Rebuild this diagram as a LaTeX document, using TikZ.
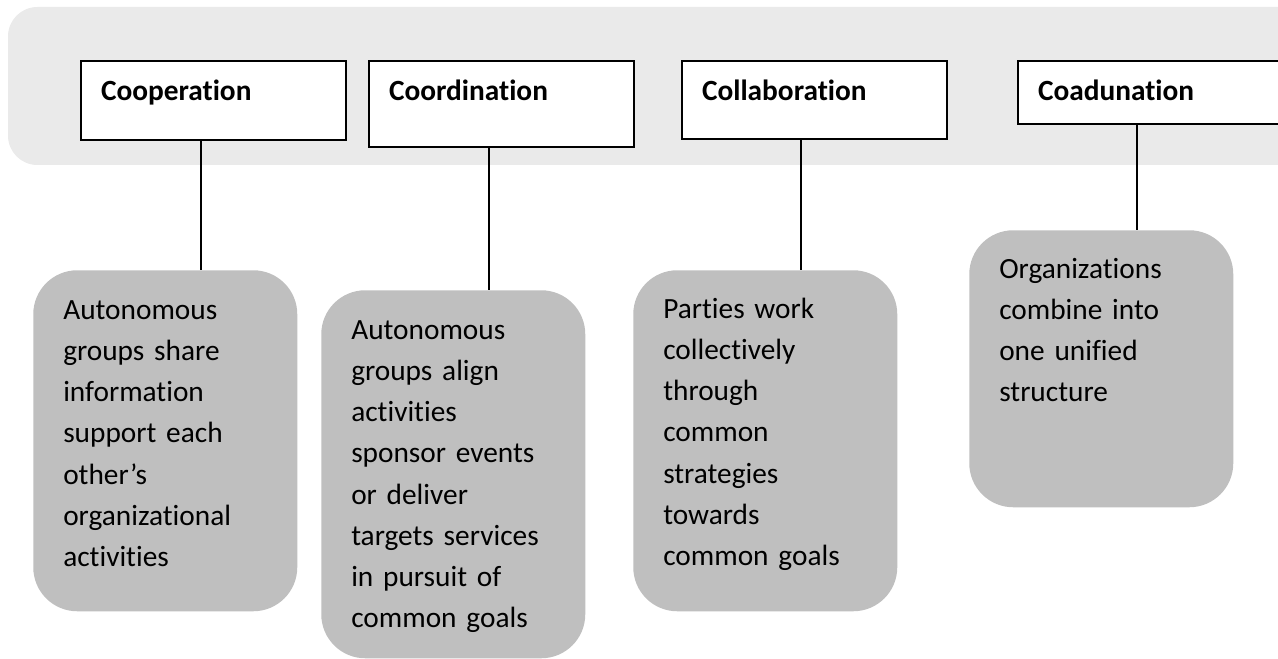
\documentclass[tikz,border=0pt]{standalone}
\usepackage{fontspec}
\setmainfont{Carlito}[Ligatures=NoCommon]
\definecolor{bandgray}{HTML}{EAEAEA}
\definecolor{boxgray}{HTML}{BFBFBF}

\begin{document}
\begin{tikzpicture}[x=0.75pt, y=-0.75pt,
  head/.style={draw, line width=1.5pt, fill=white, anchor=north west, inner ysep=0pt, inner xsep=15pt,
    text width=168.75pt, align=left, text height=30pt, font=\fontsize{22pt}{30.9pt}\selectfont\bfseries},
  desc/.style={fill=boxgray, rounded corners=33pt, anchor=north west, inner ysep=0pt, inner xsep=22.5pt,
    text width=153pt, align=left, font=\fontsize{22pt}{30.9pt}\selectfont}]
  \useasboundingbox (0,0) rectangle (1278,659);
  \clip (0,0) rectangle (1278,659);
  \fill[bandgray, rounded corners=22pt] (8,7) rectangle (1330,165);
  \node[head, text depth=29.25pt] (h1) at (80,60) {Cooperation};
  \node[head, text depth=34.5pt] (h2) at (368,60) {Coordination};
  \node[head, text depth=28.5pt] (h3) at (681,60) {Collaboration};
  \node[head, text depth=17.25pt] (h4) at (1017,60) {Coadunation};
  \node[desc, text height=36.75pt, text depth=219pt] (d1) at (33,270)
    {Autonomous\\ groups~share\\ information\\ support~each\\ other’s\\ organizational\\ activities};
  \node[desc, text height=36.75pt, text depth=239.25pt] (d2) at (321,290)
    {Autonomous\\ groups~align\\ activities\\ sponsor~events\\ or~deliver\\ targets~services\\ in~pursuit~of\\ common~goals};
  \node[desc, text height=36pt, text depth=219.75pt] (d3) at (633,270)
    {Parties~work\\ collectively\\ through\\ common\\ strategies\\ towards\\ common~goals};
  \node[desc, text height=36pt, text depth=171.75pt] (d4) at (969,230)
    {Organizations\\ combine~into\\ one~unified\\ structure};
  \draw[line width=1.5pt] (h1.south -| 201,0) -- (d1.north -| 201,0);
  \draw[line width=1.5pt] (h2.south -| 489,0) -- (d2.north -| 489,0);
  \draw[line width=1.5pt] (h3.south -| 801,0) -- (d3.north -| 801,0);
  \draw[line width=1.5pt] (h4.south -| 1137,0) -- (d4.north -| 1137,0);
\end{tikzpicture}
\end{document}
